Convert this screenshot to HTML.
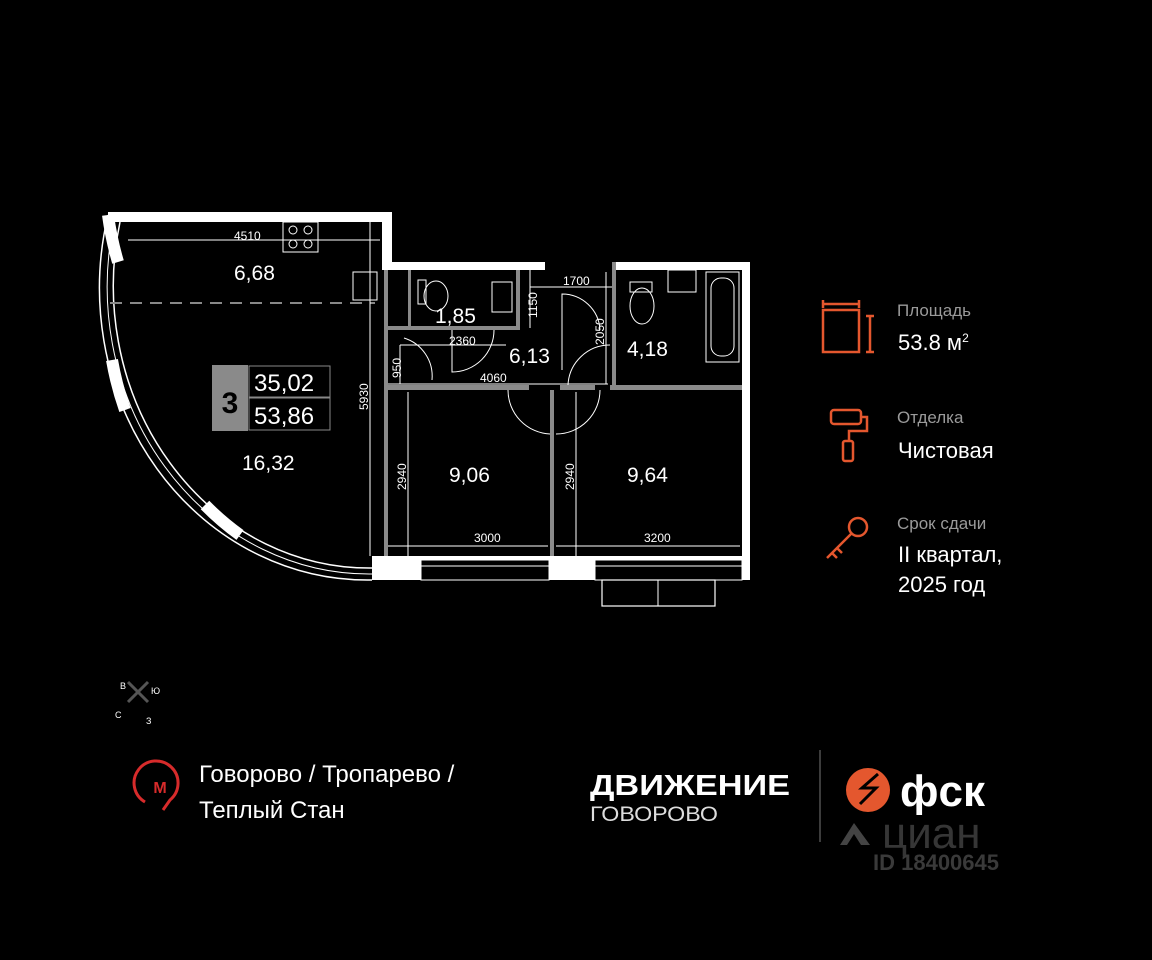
<!DOCTYPE html>
<html><head><meta charset="utf-8"><style>
body{margin:0;background:#000;width:1152px;height:960px;overflow:hidden;font-family:"Liberation Sans","DejaVu Sans",sans-serif}
svg{position:absolute;left:0;top:0}
</style></head><body>
<svg width="1152" height="960" viewBox="0 0 1152 960" font-family="Liberation Sans, DejaVu Sans, sans-serif">
<rect width="1152" height="960" fill="#000"/>
<path d="M108 215 A268 292 0 0 0 372 580" fill="none" stroke="#fff" stroke-width="1.5"/>
<path d="M120 222 A256 282 0 0 0 372 568" fill="none" stroke="#fff" stroke-width="1.5"/>
<path d="M114 222 A262 287 0 0 0 372 574" fill="none" stroke="#fff" stroke-width="1"/>
<path d="M108 215 A268 292 0 0 0 118 262" fill="none" stroke="#fff" stroke-width="12"/>
<path d="M112 360 A268 292 0 0 0 125 410" fill="none" stroke="#fff" stroke-width="12"/>
<path d="M205 505 A268 292 0 0 0 240 535" fill="none" stroke="#fff" stroke-width="12"/>
<g fill="#fff">
<rect x="108" y="212" width="284" height="10"/>
<rect x="382" y="212" width="10" height="58"/>
<rect x="382" y="262" width="163" height="8"/>
<rect x="615" y="262" width="135" height="8"/>
<rect x="742" y="262" width="8" height="318"/>
<rect x="372" y="556" width="378" height="24"/>
</g>
<rect x="421" y="560" width="128" height="20" fill="#000" stroke="#fff" stroke-width="1"/>
<line x1="421" y1="566" x2="549" y2="566" stroke="#fff"/>
<rect x="595" y="560" width="147" height="20" fill="#000" stroke="#fff" stroke-width="1"/>
<line x1="595" y1="566" x2="742" y2="566" stroke="#fff"/>
<rect x="602" y="580" width="113" height="26" fill="none" stroke="#fff" stroke-width="1.2"/>
<line x1="658" y1="580" x2="658" y2="606" stroke="#fff"/>
<g fill="#8a8a8a">
<rect x="384" y="270" width="4" height="286"/>
<rect x="384" y="385" width="145" height="5"/>
<rect x="560" y="385" width="35" height="5"/>
<rect x="610" y="385" width="132" height="5"/>
<rect x="550" y="390" width="4" height="166"/>
<rect x="384" y="326" width="135" height="4"/>
<rect x="516" y="270" width="4" height="60"/>
<rect x="408" y="270" width="3" height="60"/>
<rect x="612" y="262" width="4" height="123"/>
</g>
<g fill="none" stroke="#fff" stroke-width="1">
<rect x="283" y="222" width="35" height="30"/>
<circle cx="293" cy="230" r="4"/><circle cx="308" cy="230" r="4"/><circle cx="293" cy="244" r="4"/><circle cx="308" cy="244" r="4"/>
<rect x="353" y="272" width="24" height="28"/>
<ellipse cx="436" cy="296" rx="12" ry="15"/><rect x="418" y="280" width="8" height="24"/>
<rect x="492" y="282" width="20" height="30"/>
<ellipse cx="642" cy="306" rx="12" ry="18"/><rect x="630" y="282" width="22" height="10"/>
<rect x="668" y="270" width="28" height="22"/>
<rect x="706" y="272" width="33" height="90"/><rect x="711" y="278" width="23" height="78" rx="10"/>
<path d="M404 338 A40 40 0 0 1 432 380"/><path d="M452 330 L452 372 A42 42 0 0 0 494 330"/>
<path d="M600 330 A38 38 0 0 0 562 294 L562 370"/>
<path d="M568 385 A42 42 0 0 1 610 345"/>
<path d="M508 390 A44 44 0 0 0 550 434"/><path d="M556 434 A44 44 0 0 0 600 390"/>
</g>
<line x1="110" y1="303" x2="375" y2="303" stroke="#888" stroke-width="2" stroke-dasharray="12 8"/>
<g stroke="#fff" stroke-width="1">
<line x1="128" y1="240" x2="380" y2="240"/>
<line x1="370" y1="222" x2="370" y2="556"/>
<line x1="388" y1="546" x2="548" y2="546"/>
<line x1="408" y1="392" x2="408" y2="556"/>
<line x1="556" y1="546" x2="740" y2="546"/>
<line x1="576" y1="392" x2="576" y2="556"/>
<line x1="388" y1="384" x2="608" y2="384"/>
<line x1="400" y1="345" x2="400" y2="384"/>
<line x1="400" y1="345" x2="506" y2="345"/>
<line x1="530" y1="270" x2="530" y2="328"/>
<line x1="530" y1="287" x2="612" y2="287"/>
<line x1="606" y1="272" x2="606" y2="384"/>
</g>
<g fill="#fff" font-size="12">
<text x="234" y="240">4510</text>
<text x="474" y="542">3000</text>
<text x="644" y="542">3200</text>
<text x="480" y="382">4060</text>
<text x="449" y="345">2360</text>
<text x="563" y="285">1700</text>
<text transform="translate(368,410) rotate(-90)">5930</text>
<text transform="translate(406,490) rotate(-90)">2940</text>
<text transform="translate(574,490) rotate(-90)">2940</text>
<text transform="translate(401,378) rotate(-90)">950</text>
<text transform="translate(537,318) rotate(-90)">1150</text>
<text transform="translate(604,345) rotate(-90)">2050</text>
</g>
<g fill="#fff" font-size="21">
<text x="234" y="280">6,68</text>
<text x="242" y="470">16,32</text>
<text x="435" y="323">1,85</text>
<text x="509" y="363">6,13</text>
<text x="627" y="356">4,18</text>
<text x="449" y="482">9,06</text>
<text x="627" y="482">9,64</text>
</g>
<rect x="212" y="365" width="36" height="66" fill="#8a8a8a"/>
<text x="230" y="413" font-size="30" font-weight="bold" fill="#000" text-anchor="middle">3</text>
<rect x="249" y="366" width="81" height="31" fill="#000" stroke="#888"/>
<rect x="249" y="398" width="81" height="32" fill="#000" stroke="#888"/>
<text x="254" y="391" font-size="24" fill="#fff">35,02</text>
<text x="254" y="424" font-size="24" fill="#fff">53,86</text>
<g fill="none" stroke="#e4572e" stroke-width="2.5">
<rect x="823" y="310" width="36" height="42"/><path d="M823 300v8M859 300v8M823 304h36M870 316v36M866 316h8M866 352h8"/>
<rect x="831" y="410" width="30" height="14" rx="3"/><path d="M861 417h6v14h-18v10"/><rect x="843" y="441" width="10" height="20" rx="2"/>
<circle cx="858" cy="527" r="9"/><path d="M851 534l-24 24M832 553l5 5M837 548l5 5"/>
</g>
<g font-size="17" fill="#9a9a9a">
<text x="897" y="316">Площадь</text><text x="897" y="423">Отделка</text><text x="897" y="529">Срок сдачи</text>
</g>
<g font-size="22" fill="#fff">
<text x="898" y="350">53.8 м<tspan font-size="12" dy="-8">2</tspan></text>
<text x="898" y="458">Чистовая</text>
<text x="898" y="562">II квартал,</text>
<text x="898" y="592">2025 год</text>
</g>
<g stroke="#555" stroke-width="3"><line x1="128" y1="702" x2="148" y2="682"/><line x1="128" y1="682" x2="148" y2="702"/></g>
<g fill="#fff" font-size="9"><text x="120" y="689">В</text><text x="151" y="694">Ю</text><text x="115" y="718">С</text><text x="146" y="724">З</text></g>
<path d="M145 802 A22 22 0 1 1 170 800 L163 810" fill="none" stroke="#d72b2b" stroke-width="3"/>
<text x="160" y="793" font-size="16" font-weight="bold" fill="#d72b2b" text-anchor="middle">М</text>
<g font-size="24" fill="#fff"><text x="199" y="782">Говорово / Тропарево /</text><text x="199" y="818">Теплый Стан</text></g>
<text x="590" y="795" font-size="29" font-weight="bold" fill="#fff" textLength="200" lengthAdjust="spacingAndGlyphs">ДВИЖЕНИЕ</text>
<text x="590" y="821" font-size="21" fill="#ddd" textLength="128" lengthAdjust="spacingAndGlyphs">ГОВОРОВО</text>
<line x1="820" y1="750" x2="820" y2="842" stroke="#777"/>
<circle cx="868" cy="790" r="22" fill="#e4572e"/>
<path d="M878 774 l-16 14 h14 l-16 16" fill="none" stroke="#000" stroke-width="3"/>
<text x="900" y="806" font-size="44" font-weight="bold" fill="#fff">фск</text>
<text x="882" y="848" font-size="44" fill="#444" opacity="0.8">циан</text>
<path d="M840 845 l14 -22 l16 22 h-9 l-7 -11 l-7 11z" fill="#444"/>
<text x="873" y="870" font-size="22" font-weight="bold" fill="#3a3a3a">ID 18400645</text>
</svg>
</body></html>
